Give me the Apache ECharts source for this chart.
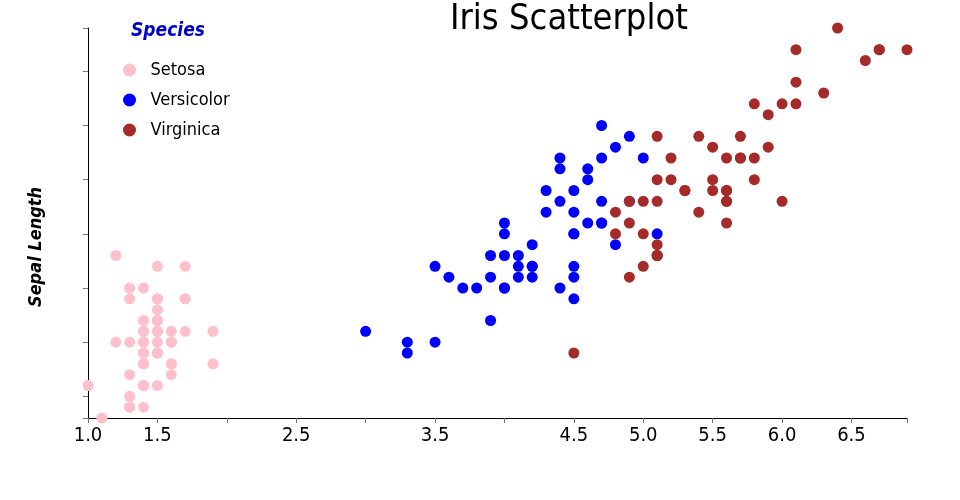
<!DOCTYPE html>
<html>
<head>
<meta charset="utf-8">
<script src="https://cdn.jsdelivr.net/npm/echarts@6/dist/echarts.min.js"></script>
<style>
html,body{margin:0;padding:0;background:#fff;}
#chart{width:960px;height:500px;}
</style>
</head>
<body>
<div id="chart"></div>
<script>
// [petal length, sepal length]
const setosa = [
[1.4,5.1],[1.4,4.9],[1.3,4.7],[1.5,4.6],[1.4,5.0],[1.7,5.4],[1.4,4.6],[1.5,5.0],[1.4,4.4],[1.5,4.9],
[1.5,5.4],[1.6,4.8],[1.4,4.8],[1.1,4.3],[1.2,5.8],[1.5,5.7],[1.3,5.4],[1.4,5.1],[1.7,5.7],[1.5,5.1],
[1.7,5.4],[1.5,5.1],[1.0,4.6],[1.7,5.1],[1.9,4.8],[1.6,5.0],[1.6,5.0],[1.5,5.2],[1.4,5.2],[1.6,4.7],
[1.6,4.8],[1.5,5.4],[1.5,5.2],[1.4,5.5],[1.5,4.9],[1.2,5.0],[1.3,5.5],[1.4,4.9],[1.3,4.4],[1.5,5.1],
[1.3,5.0],[1.3,4.5],[1.3,4.4],[1.6,5.0],[1.9,5.1],[1.4,4.8],[1.6,5.1],[1.4,4.6],[1.5,5.3],[1.4,5.0]
];
const versicolor = [
[4.7,7.0],[4.5,6.4],[4.9,6.9],[4.0,5.5],[4.6,6.5],[4.5,5.7],[4.7,6.3],[3.3,4.9],[4.6,6.6],[3.9,5.2],
[3.5,5.0],[4.2,5.9],[4.0,6.0],[4.7,6.1],[3.6,5.6],[4.4,6.7],[4.5,5.6],[4.1,5.8],[4.5,6.2],[3.9,5.6],
[4.8,5.9],[4.0,6.1],[4.9,6.3],[4.7,6.1],[4.3,6.4],[4.4,6.6],[4.8,6.8],[5.0,6.7],[4.5,6.0],[3.5,5.7],
[3.8,5.5],[3.7,5.5],[3.9,5.8],[5.1,6.0],[4.5,5.4],[4.5,6.0],[4.7,6.7],[4.4,6.3],[4.1,5.6],[4.0,5.5],
[4.4,5.5],[4.6,6.1],[4.0,5.8],[3.3,5.0],[4.2,5.6],[4.2,5.7],[4.2,5.7],[4.3,6.2],[3.0,5.1],[4.1,5.7]
];
const virginica = [
[6.0,6.3],[5.1,5.8],[5.9,7.1],[5.6,6.3],[5.8,6.5],[6.6,7.6],[4.5,4.9],[6.3,7.3],[5.8,6.7],[6.1,7.2],
[5.1,6.5],[5.3,6.4],[5.5,6.8],[5.0,5.7],[5.1,5.8],[5.3,6.4],[5.5,6.5],[6.7,7.7],[6.9,7.7],[5.0,6.0],
[5.7,6.9],[4.9,5.6],[6.7,7.7],[4.9,6.3],[5.7,6.7],[6.0,7.2],[4.8,6.2],[4.9,6.1],[5.6,6.4],[5.8,7.2],
[6.1,7.4],[6.4,7.9],[5.6,6.4],[5.1,6.3],[5.6,6.1],[6.1,7.7],[5.6,6.3],[5.5,6.4],[4.8,6.0],[5.4,6.9],
[5.6,6.7],[5.1,6.9],[5.1,5.8],[5.9,6.8],[5.7,6.7],[5.2,6.7],[5.0,6.3],[5.2,6.5],[5.4,6.2],[5.1,5.9]
];
const speciesNames = ['Setosa','Versicolor','Virginica'];
const speciesColors = ['#FFC0CB','#0000FF','#A52A2A'];
const xTicks = [1.0,1.5,2.0,2.5,3.0,3.5,4.0,4.5,5.0,5.5,6.0,6.5,6.9];
const xTickLabels = [1.0,1.5,2.5,3.5,4.5,5.0,5.5,6.0,6.5];
const yTicks = [4.3,4.5,5.0,5.5,6.0,6.5,7.0,7.5,7.9];

const FONT = '"Ubuntu Condensed","Liberation Sans Narrow","DejaVu Sans Condensed","Roboto Condensed","Open Sans",sans-serif';

const chart = echarts.init(document.getElementById('chart'), null, {renderer:'canvas'});
const seriesData = [setosa, versicolor, virginica];
chart.setOption({
  animation: false,
  backgroundColor: '#fff',
  grid: {left: 88, right: 53, top: 28, bottom: 82, containLabel: false},
  xAxis: {
    type: 'value', min: 1.0, max: 6.9,
    splitLine: {show: false},
    axisLine: {lineStyle: {color: '#000', width: 1}},
    axisTick: {show: true, length: 5, customValues: xTicks, lineStyle: {color: '#777'}},
    axisLabel: {
      color: '#000', fontFamily: FONT, fontSize: 20, margin: 8,
      customValues: xTickLabels,
      formatter: function (v) { return Number(v).toFixed(1); }
    }
  },
  yAxis: {
    type: 'value', min: 4.3, max: 7.9,
    splitLine: {show: false},
    axisLine: {show: true, lineStyle: {color: '#000', width: 1}},
    axisTick: {show: true, length: 5, customValues: yTicks, lineStyle: {color: '#777'}},
    axisLabel: {show: false}
  },
  legend: {
    orient: 'vertical', left: 118, top: 55,
    icon: 'circle', itemWidth: 28, itemHeight: 13, itemGap: 10,
    textStyle: {fontFamily: FONT, fontSize: 18, color: '#000', lineHeight: 20, padding: [0,0,0,2]},
    data: speciesNames
  },
  graphic: [
    {type: 'text', left: 450, top: 2, style: {text: 'Iris Scatterplot', font: '36px ' + FONT, fill: '#000'}},
    {type: 'text', left: 131, top: 22, style: {text: 'Species', font: 'italic bold 19px ' + FONT, fill: '#0000CD'}},
    {type: 'text', x: 36, y: 247, rotation: Math.PI / 2,
     style: {text: 'Sepal Length', font: 'italic bold 18px ' + FONT, fill: '#000', align: 'center', verticalAlign: 'middle'}}
  ],
  series: speciesNames.map((n, i) => ({
    name: n, type: 'scatter', symbol: 'circle', symbolSize: 11,
    itemStyle: {color: speciesColors[i], opacity: 1},
    data: seriesData[i]
  }))
});
</script>
</body>
</html>
